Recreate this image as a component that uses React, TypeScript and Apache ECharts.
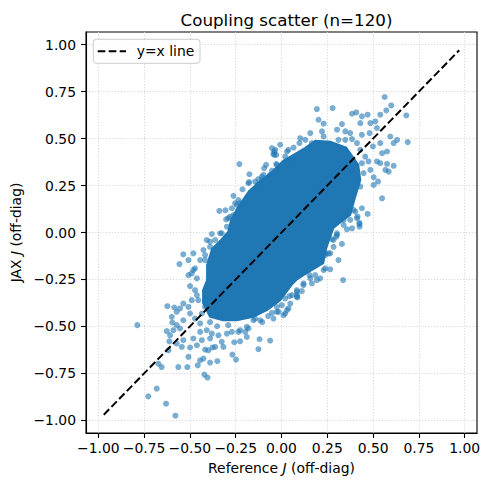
import React, { useEffect, useRef } from "react";
import * as echarts from "echarts";

const TITLE = "Coupling scatter (n=120)";
const LEGEND_LABEL = "y=x line";
const TICKS = [-1, -0.75, -0.5, -0.25, 0, 0.25, 0.5, 0.75, 1];
const AXIS_MIN = -1.067;
const AXIS_MAX = 1.067;
const LINE_ENDS = [-0.97, 0.97];

// Outline of the saturated, fully overlapped core of the cloud
const CORE_OUTLINE: number[][] = [
  [-0.127, 0.264], [-0.051, 0.323], [0.009, 0.381], [0.084, 0.424], [0.13, 0.451],
  [0.184, 0.488], [0.266, 0.483], [0.354, 0.451], [0.419, 0.36], [0.43, 0.28],
  [0.397, 0.173], [0.375, 0.093], [0.337, 0.067], [0.283, 0.024], [0.244, -0.083],
  [0.228, -0.163], [0.146, -0.211], [0.086, -0.248], [0.058, -0.275], [-0.007, -0.36],
  [-0.08, -0.413], [-0.155, -0.449], [-0.244, -0.467], [-0.319, -0.467], [-0.39, -0.449],
  [-0.428, -0.376], [-0.428, -0.307], [-0.406, -0.253], [-0.406, -0.173], [-0.379, -0.088],
  [-0.33, -0.04], [-0.291, 0.003], [-0.275, 0.067], [-0.237, 0.136], [-0.177, 0.221],
];

// Individually visible points, lower-left tail
const LOWER_LEFT_POINTS: number[][] = [
  [-0.787, -0.493], [-0.623, -0.392], [-0.585, -0.399], [-0.596, -0.479], [-0.626, -0.525],
  [-0.612, -0.579], [-0.617, -0.627], [-0.672, -0.698], [-0.654, -0.716], [-0.727, -0.872],
  [-0.681, -0.831], [-0.63, -0.911], [-0.579, -0.975], [-0.563, -0.716], [-0.514, -0.716],
  [-0.508, -0.662], [-0.457, -0.707], [-0.444, -0.68], [-0.426, -0.671], [-0.421, -0.756],
  [-0.404, -0.772], [-0.39, -0.692], [-0.35, -0.685], [-0.268, -0.65], [-0.248, -0.676],
  [-0.377, -0.612], [-0.417, -0.623], [-0.399, -0.627], [-0.462, -0.6], [-0.499, -0.612],
  [-0.544, -0.609], [-0.572, -0.591], [-0.536, -0.573], [-0.481, -0.564], [-0.435, -0.573],
  [-0.39, -0.564], [-0.362, -0.609], [-0.317, -0.609], [-0.326, -0.582], [-0.258, -0.584],
  [-0.226, -0.579], [-0.189, -0.556], [-0.12, -0.568], [-0.062, -0.575], [-0.126, -0.621],
  [-0.608, -0.547], [-0.59, -0.52], [-0.554, -0.511], [-0.572, -0.493], [-0.536, -0.467],
  [-0.599, -0.449], [-0.572, -0.422], [-0.554, -0.404], [-0.536, -0.378], [-0.508, -0.396],
  [-0.499, -0.431], [-0.472, -0.458], [-0.444, -0.484], [-0.444, -0.529], [-0.408, -0.52],
  [-0.38, -0.538], [-0.344, -0.547], [-0.298, -0.538], [-0.271, -0.529], [-0.235, -0.529],
  [-0.198, -0.529], [-0.18, -0.511], [-0.472, -0.307], [-0.462, -0.333], [-0.499, -0.285],
  [-0.508, -0.227], [-0.481, -0.2], [-0.49, -0.36], [-0.454, -0.36], [-0.417, -0.396],
  [-0.435, -0.431], [-0.044, -0.458], [-0.025, -0.422], [0.02, -0.431], [0.038, -0.404],
  [0.002, -0.387], [0.044, -0.339], [0.084, -0.316], [-0.116, -0.467], [-0.153, -0.467],
  [0.03, -0.413], [0.048, -0.378], [0.084, -0.333], [0.12, -0.28], [0.166, -0.271],
  [0.193, -0.253], [-0.016, -0.422], [-0.052, -0.428], [-0.144, -0.458], [-0.189, -0.502],
  [-0.226, -0.52], [-0.39, -0.477], [-0.351, -0.499], [-0.291, -0.493], [-0.105, -0.477],
  [-0.073, -0.445],
];

// Individually visible points, upper-left edge
const UPPER_LEFT_POINTS: number[][] = [
  [-0.23, 0.364], [-0.175, 0.31], [-0.177, 0.268], [-0.131, 0.253], [-0.084, 0.36],
  [-0.095, 0.342], [-0.029, 0.364], [-0.062, 0.307], [-0.107, 0.298], [-0.044, 0.419],
  [-0.034, 0.44], [-0.213, 0.23], [-0.262, 0.195], [-0.235, 0.173], [-0.253, 0.156],
  [-0.271, 0.129], [-0.339, 0.115], [-0.306, 0.118], [-0.302, 0.07], [-0.28, 0.084],
  [-0.38, -0.008], [-0.326, -0.004], [-0.408, -0.04], [-0.39, -0.049], [-0.426, -0.093],
  [-0.481, -0.111], [-0.536, -0.116], [-0.557, -0.168], [-0.508, -0.147], [-0.472, -0.191],
  [-0.444, -0.147], [-0.417, -0.147], [-0.49, -0.218], [-0.462, -0.244], [-0.052, 0.449],
  [-0.04, 0.413], [-0.007, 0.467], [0.066, 0.452], [0.098, 0.476], [0.166, 0.476],
  [-0.18, 0.262], [-0.226, 0.156], [-0.04, 0.431], [-0.029, 0.413], [-0.052, 0.33],
  [-0.025, 0.36], [-0.098, 0.307], [-0.126, 0.284], [-0.144, 0.271], [-0.107, 0.28],
  [-0.244, 0.147], [-0.262, 0.093], [-0.29, 0.076], [-0.298, 0.031], [-0.335, -0.004],
  [-0.362, -0.04], [-0.39, -0.076], [-0.417, -0.12], [0.038, 0.44], [0.02, 0.404],
  [0.048, 0.387],
];

// Individually visible points, right edge and upper-right tail
const RIGHT_POINTS: number[][] = [
  [0.425, 0.052], [0.426, 0.031], [0.357, 0.017], [0.33, -0.061], [0.336, -0.253],
  [0.266, -0.111], [0.239, -0.111], [0.266, -0.196], [0.23, -0.2], [0.211, -0.244],
  [0.184, -0.227], [0.157, -0.244], [0.111, -0.312], [0.087, -0.346], [0.057, -0.333],
  [0.303, -0.013], [0.284, -0.04], [0.339, 0.04], [0.563, 0.721], [0.599, 0.676],
  [0.572, 0.65], [0.539, 0.627], [0.681, 0.623], [0.47, 0.627], [0.439, 0.618],
  [0.385, 0.632], [0.408, 0.639], [0.279, 0.662], [0.193, 0.657], [0.202, 0.6],
  [0.23, 0.579], [0.221, 0.538], [0.33, 0.577], [0.303, 0.547], [0.348, 0.538],
  [0.375, 0.529], [0.43, 0.582], [0.485, 0.582], [0.512, 0.591], [0.521, 0.556],
  [0.439, 0.52], [0.481, 0.529], [0.102, 0.502], [0.03, 0.431], [0.594, 0.511],
  [0.631, 0.493], [0.689, 0.481], [0.612, 0.476], [0.539, 0.476], [0.499, 0.458],
  [0.576, 0.431], [0.549, 0.422], [0.521, 0.378], [0.539, 0.369], [0.576, 0.365],
  [0.612, 0.355], [0.567, 0.333], [0.585, 0.324], [0.485, 0.333], [0.448, 0.316],
  [0.503, 0.294], [0.527, 0.271], [0.503, 0.253], [0.549, 0.182], [0.43, 0.244],
  [0.439, 0.129], [0.47, 0.099], [0.403, 0.111], [0.412, 0.076], [0.385, 0.022],
  [0.412, 0.28], [0.393, 0.333], [0.426, 0.045], [0.299, -0.022], [0.275, -0.036],
  [0.257, -0.111], [0.239, -0.12], [0.239, -0.191], [0.153, -0.227], [0.12, -0.271],
  [0.084, -0.307], [0.084, -0.342], [0.02, -0.351], [0.011, -0.44], [-0.025, -0.396],
  [0.393, 0.12], [0.415, 0.084], [0.375, 0.067], [0.339, 0.067], [0.303, -0.004],
  [0.284, -0.076], [0.311, -0.147], [0.385, 0.497], [0.412, 0.476], [0.43, 0.44],
  [0.457, 0.404], [0.475, 0.378], [0.439, 0.369], [0.157, 0.529], [0.13, 0.493],
  [0.23, 0.511], [0.311, 0.493], [0.348, 0.493],
];

const fmt = (v: number) => (v < 0 ? "\u2212" : "") + Math.abs(v).toFixed(2);

const FONT = "DejaVu Sans";
const BLUE = "#1f77b4";

export default function App() {
  const ref = useRef<HTMLDivElement>(null);

  useEffect(() => {
    if (!ref.current) return;
    const chart = echarts.init(ref.current, undefined, { renderer: "svg" });

    const axisCommon = {
      type: "value" as const,
      min: AXIS_MIN,
      max: AXIS_MAX,
      axisLine: { show: true, onZero: false, lineStyle: { color: "#000", width: 1.1 } },
      axisTick: { show: true, length: 5, lineStyle: { color: "#000", width: 1.1 }, customValues: TICKS },
      splitLine: { show: true, lineStyle: { color: "#d0d0d0", width: 0.9, type: [1.1, 1.8] } },
      nameLocation: "middle" as const,
    };

    chart.setOption({
      animation: false,
      backgroundColor: "#fff",
      title: {
        text: TITLE,
        left: 281.5,
        top: 6,
        textAlign: "center",
        textStyle: { fontFamily: FONT, fontSize: 16.7, fontWeight: "normal", color: "#000" },
      },
      grid: {
        left: 86,
        right: 12,
        top: 32,
        bottom: 57,
        show: true,
        borderColor: "#000",
        borderWidth: 1.1,
        backgroundColor: "transparent",
      },
      xAxis: {
        ...axisCommon,
        name: "Reference {i|J} (off-diag)",
        nameGap: 28,
        nameTextStyle: {
          fontFamily: FONT,
          fontSize: 13.9,
          color: "#000",
          rich: { i: { fontFamily: FONT, fontSize: 13.9, fontStyle: "italic", color: "#000" } },
        },
        axisLabel: {
          customValues: TICKS,
          formatter: fmt,
          margin: 8,
          fontFamily: FONT,
          fontSize: 13.9,
          color: "#000",
        },
      },
      yAxis: {
        ...axisCommon,
        name: "JAX {i|J} (off-diag)",
        nameGap: 60,
        nameTextStyle: {
          fontFamily: FONT,
          fontSize: 13.9,
          color: "#000",
          rich: { i: { fontFamily: FONT, fontSize: 13.9, fontStyle: "italic", color: "#000" } },
        },
        axisLabel: {
          customValues: TICKS,
          formatter: fmt,
          margin: 10,
          fontFamily: FONT,
          fontSize: 13.9,
          color: "#000",
        },
      },
      series: [
        {
          type: "custom",
          name: "core",
          silent: true,
          z: 2,
          data: [[0, 0]],
          encode: { x: 0, y: 0 },
          renderItem: (_params: any, api: any) => ({
            type: "polygon",
            shape: { points: CORE_OUTLINE.map((p) => api.coord(p)) },
            style: { fill: BLUE, stroke: BLUE, lineWidth: 2, lineJoin: "round" },
          }),
        },
        {
          type: "scatter",
          name: "pairs",
          z: 3,
          symbolSize: 6,
          itemStyle: { color: BLUE, opacity: 0.6 },
          data: [...LOWER_LEFT_POINTS, ...UPPER_LEFT_POINTS, ...RIGHT_POINTS],
        },
        {
          type: "line",
          name: LEGEND_LABEL,
          z: 4,
          symbol: "none",
          lineStyle: { color: "#000", width: 2, type: [7.7, 3.3] },
          data: [
            [LINE_ENDS[0], LINE_ENDS[0]],
            [LINE_ENDS[1], LINE_ENDS[1]],
          ],
        },
      ],
      graphic: [
        {
          type: "rect",
          z: 100,
          shape: { x: 93.3, y: 39.3, width: 106.7, height: 24, r: 3 },
          style: { fill: "rgba(255,255,255,0.8)", stroke: "#cccccc", lineWidth: 1 },
        },
        {
          type: "line",
          z: 101,
          shape: { x1: 97.7, y1: 51.3, x2: 126, y2: 51.3 },
          style: { stroke: "#000", lineWidth: 2, lineDash: [7.7, 3.3] },
        },
        {
          type: "text",
          z: 101,
          x: 136.7,
          y: 51.3,
          style: {
            text: LEGEND_LABEL,
            fontFamily: FONT,
            fontSize: 13.9,
            fill: "#000",
            verticalAlign: "middle",
            align: "left",
          },
        },
      ],
    });

    return () => chart.dispose();
  }, []);

  return (
    <div
      ref={ref}
      style={{ position: "fixed", left: 0, top: 0, width: 489, height: 490 }}
    />
  );
}
